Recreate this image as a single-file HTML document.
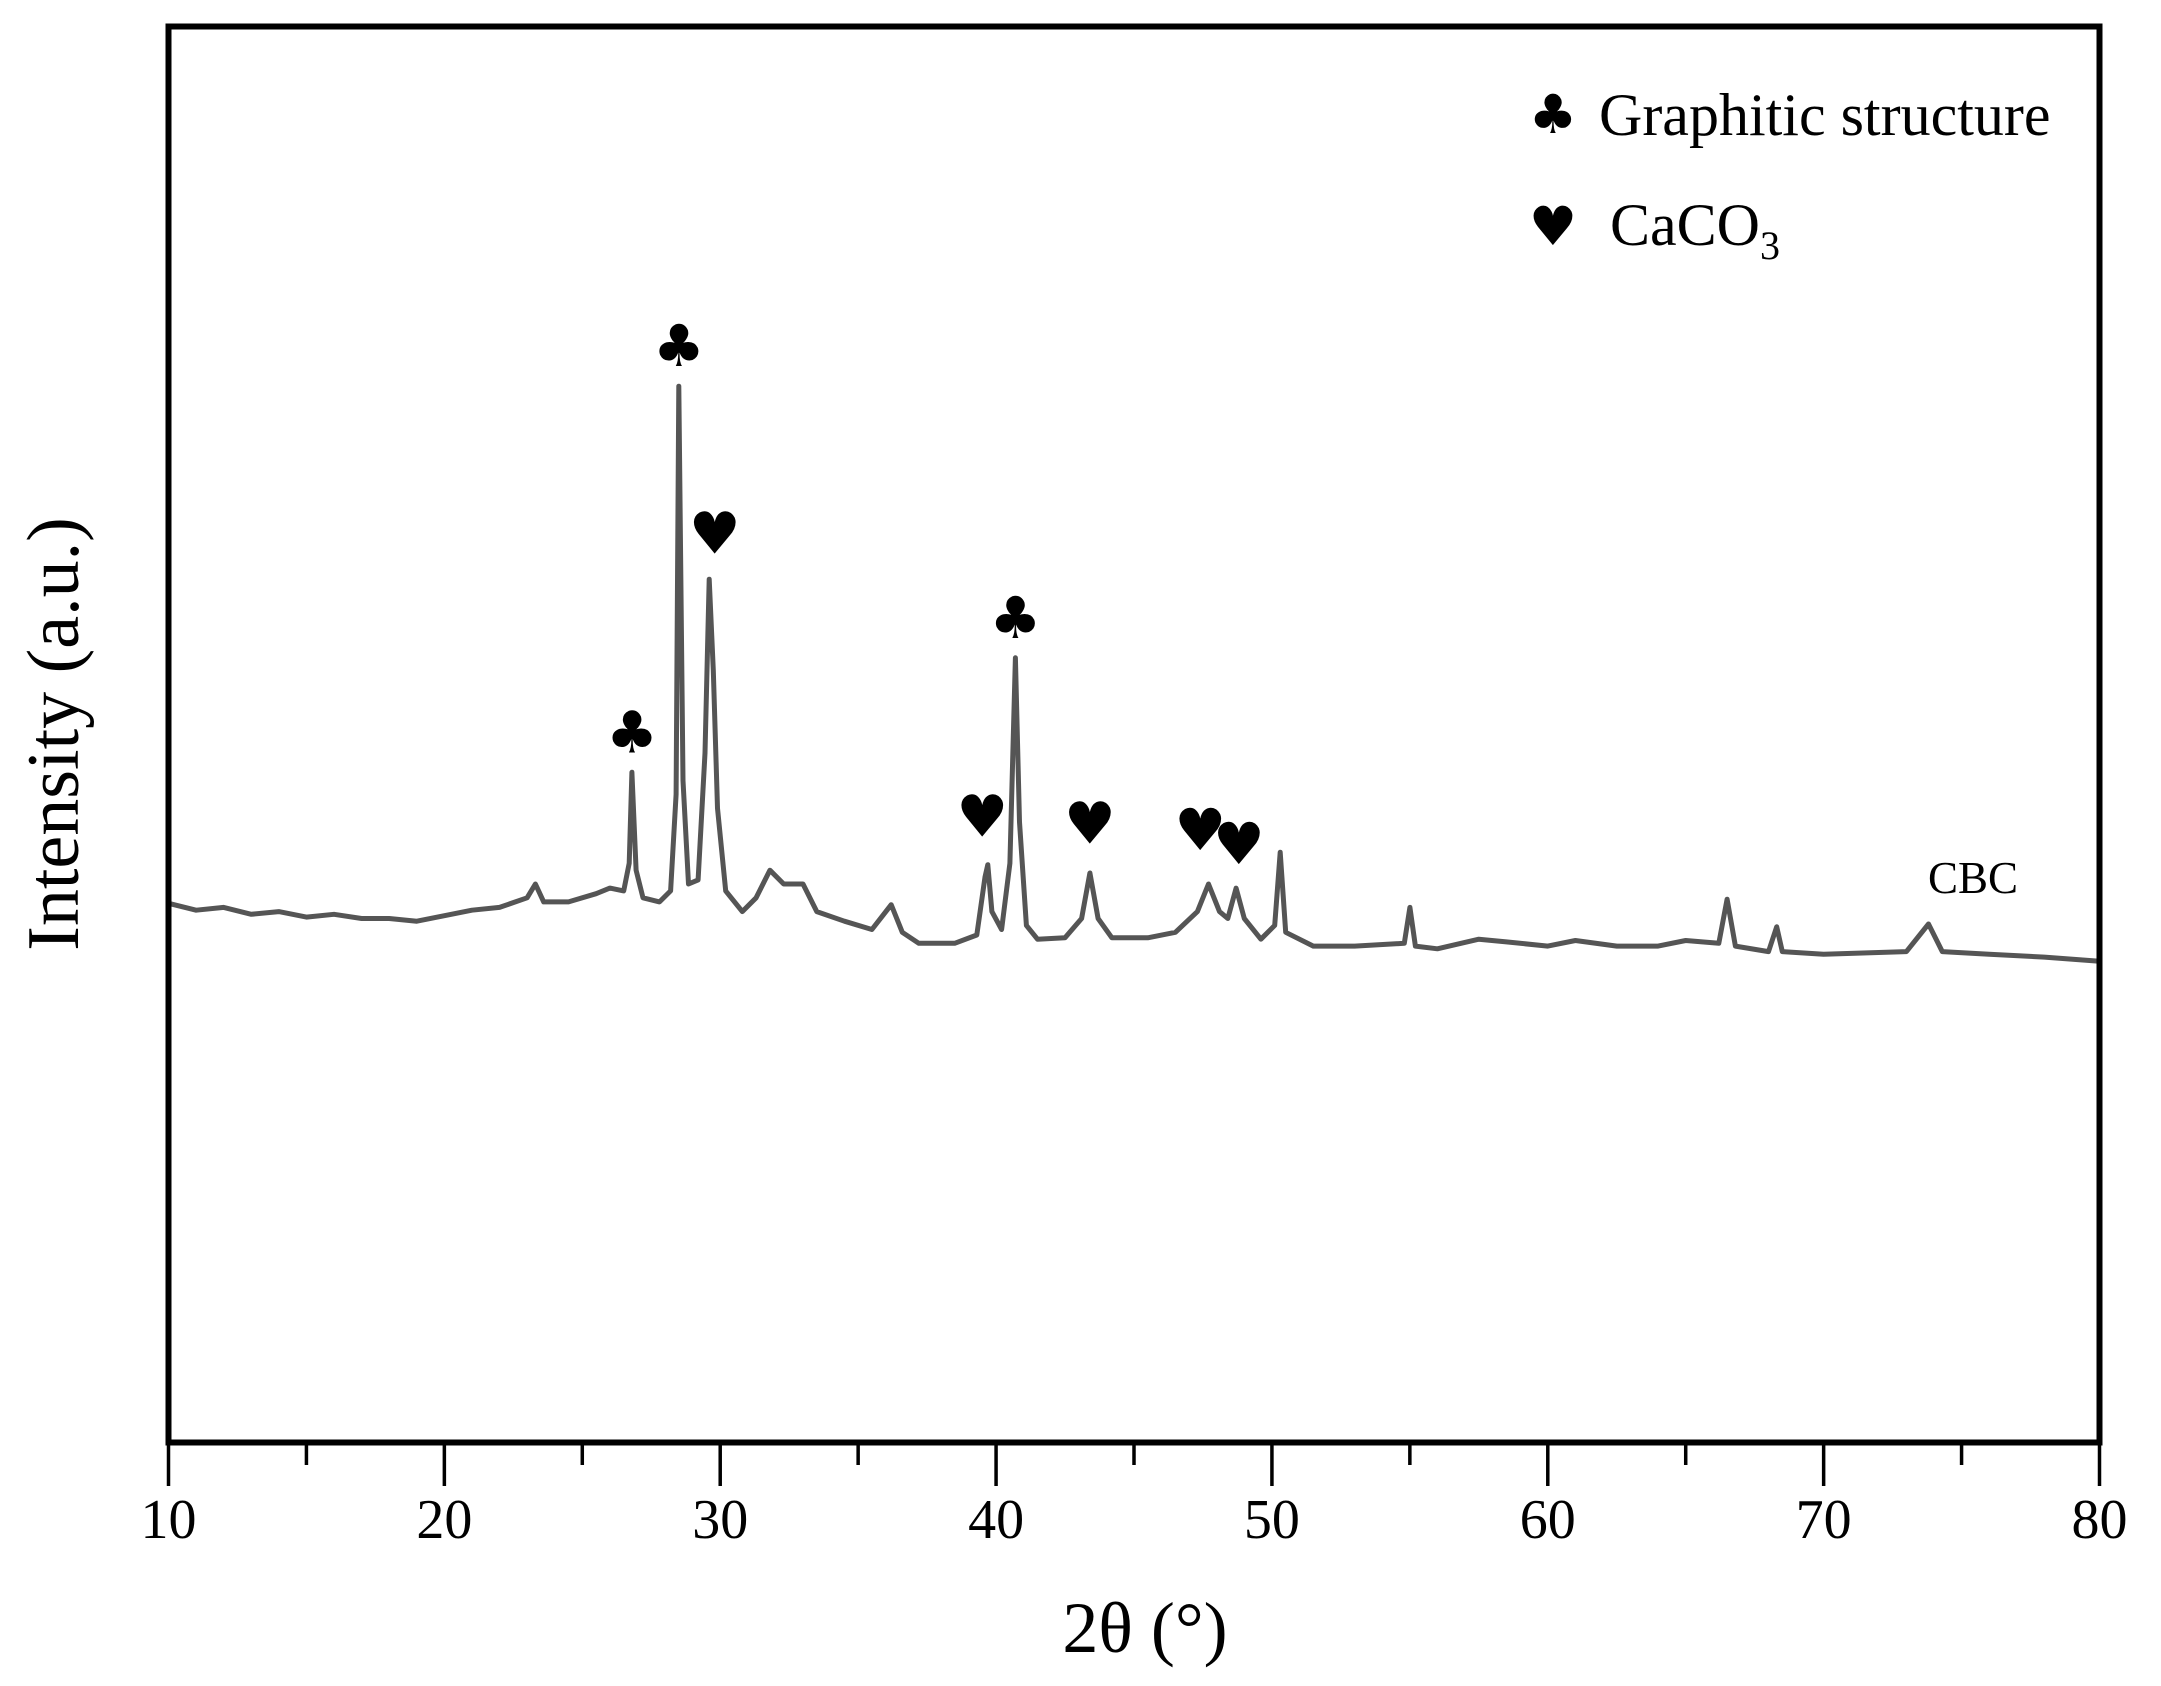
<!DOCTYPE html>
<html><head><meta charset="utf-8"><style>
html,body{margin:0;padding:0;background:#fff;}
svg{display:block;}
text{font-family:"Liberation Serif",serif;fill:#000;}
.sym{font-family:"DejaVu Sans",sans-serif;}
</style></head><body>
<svg id="chart" width="2161" height="1686" viewBox="0 0 2161 1686">
<g id="marks"></g>
<rect x="168.5" y="26.5" width="1931" height="1416" fill="none" stroke="#000" stroke-width="6"/>
<g id="xticks"></g>
<text x="1145" y="1652" font-size="72" text-anchor="middle">2θ (°)</text>
<text transform="translate(78,734) rotate(-90)" font-size="74" text-anchor="middle">Intensity (a.u.)</text>
<text class="sym" x="1553" y="133" font-size="54" text-anchor="middle">♣</text>
<text x="1599" y="135" font-size="60">Graphitic structure</text>
<text class="sym" x="1553" y="245" font-size="54" text-anchor="middle">♥</text>
<text x="1610" y="245" font-size="60">CaCO<tspan font-size="40" dy="14">3</tspan></text>
<text x="1928" y="893" font-size="45">CBC</text>
<g id="annots"></g>
</svg>
<script>
const twoTheta=[10,11,12,13,14,15,16,17,18,19,20,21,22,23,23.3,23.6,24.5,25.5,26,26.5,26.7,26.8,26.95,27.2,27.8,28.2,28.4,28.5,28.65,28.85,29.2,29.45,29.6,29.75,29.9,30.2,30.8,31.3,31.8,32.3,33,33.5,34.5,35.5,36.2,36.6,37.2,38.5,39.3,39.6,39.7,39.85,40.2,40.5,40.7,40.85,41.1,41.5,42.5,43.1,43.4,43.7,44.2,45.5,46.5,47.3,47.7,48.1,48.4,48.7,49,49.6,50.1,50.3,50.5,51.5,53,54.8,55,55.2,56,57.5,58.5,60,61,62.5,64,65,66.2,66.5,66.8,68,68.3,68.5,70,73,73.8,74.3,76,78,80];
const intensity=[391,386,388,383,385,381,383,380,380,378,382,386,388,395,405,392,392,398,402,400,420,486,415,395,392,400,470,766,480,405,408,500,626,560,460,400,385,395,415,405,405,385,378,372,390,370,362,362,368,410,419,385,372,420,569,450,375,365,366,380,413,380,366,366,370,385,405,385,380,402,380,365,375,428,370,360,360,362,388,360,358,365,363,360,364,360,360,364,362,394,360,356,374,356,354,356,376,356,354,352,349];
const xTicks=[10,20,30,40,50,60,70,80];
const xMinor=[15,25,35,45,55,65,75];
const clubPeaks=[26.8,28.5,40.7];
const heartPeaks=[29.8,39.5,43.4,47.4,48.8];
const clubH=[486,766,569];
const heartH=[630,425,420,415,405];

const NS="http://www.w3.org/2000/svg";
function X(v){return 168.5+(v-10)*(2099.5-168.5)/70;}
function Y(v){return 1442.5-v*1.379;}

const marks=document.getElementById('marks');
let d='';
for(let i=0;i<twoTheta.length;i++){d+=(i?'L':'M')+X(twoTheta[i]).toFixed(1)+','+Y(intensity[i]).toFixed(1);}
const p=document.createElementNS(NS,'path');
p.setAttribute('d',d);p.setAttribute('fill','none');p.setAttribute('stroke','#555');p.setAttribute('stroke-width','5');p.setAttribute('stroke-linejoin','round');


marks.appendChild(p);

const xt=document.getElementById('xticks');
xTicks.forEach(t=>{
 const l=document.createElementNS(NS,'line');
 l.setAttribute('x1',X(t));l.setAttribute('x2',X(t));l.setAttribute('y1',1442);l.setAttribute('y2',1486);l.setAttribute('stroke','#000');l.setAttribute('stroke-width','3.5');
 
 
 xt.appendChild(l);
 const tx=document.createElementNS(NS,'text');
 tx.setAttribute('x',X(t));tx.setAttribute('y',1538);tx.setAttribute('font-size','56');tx.setAttribute('text-anchor','middle');
 tx.textContent=t;
 
 
 xt.appendChild(tx);
});
xMinor.forEach(t=>{
 const l=document.createElementNS(NS,'line');
 l.setAttribute('x1',X(t));l.setAttribute('x2',X(t));l.setAttribute('y1',1442);l.setAttribute('y2',1465);l.setAttribute('stroke','#000');l.setAttribute('stroke-width','3.5');
 
 
 xt.appendChild(l);
});

const an=document.getElementById('annots');
function addSym(x,h,ch,name){
 const t=document.createElementNS(NS,'text');
 t.setAttribute('class','sym');t.setAttribute('x',X(x));t.setAttribute('y',Y(h)-20);t.setAttribute('font-size','58');t.setAttribute('text-anchor','middle');
 t.textContent=ch;
 
 
 an.appendChild(t);
}
clubPeaks.forEach((x,i)=>addSym(x,clubH[i],'♣','graphitic-peak-marker'));
heartPeaks.forEach((x,i)=>addSym(x,heartH[i],'♥','caco3-peak-marker'));
</script>
</body></html>
